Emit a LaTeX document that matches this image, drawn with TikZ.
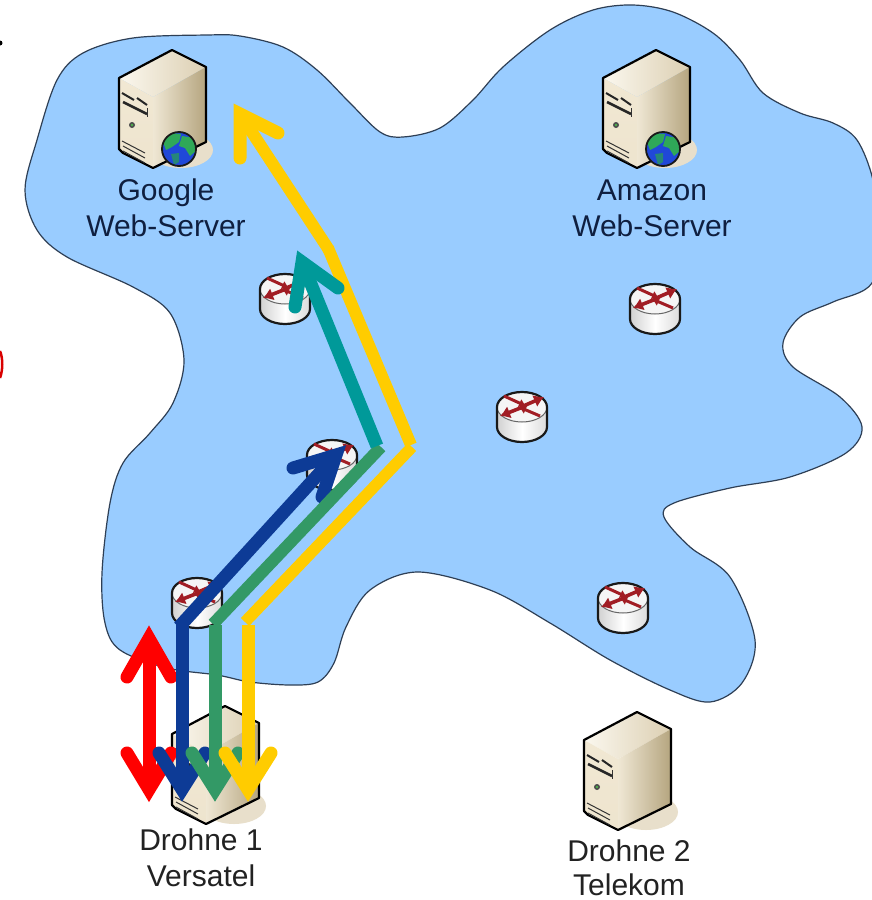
\documentclass[tikz,border=0pt]{standalone}
\usepackage{fontspec}
\setmainfont{Liberation Sans}
\usetikzlibrary{calc,arrows.meta}
\definecolor{cloudblue}{HTML}{99CCFF}
\definecolor{cloudline}{HTML}{2E3F55}
\definecolor{abblue}{HTML}{0D3B96}
\definecolor{abgreen}{HTML}{339966}
\definecolor{abteal}{HTML}{009999}
\definecolor{abyellow}{HTML}{FFCC00}
\definecolor{abred}{HTML}{FF0000}
\definecolor{navytext}{HTML}{0F1F40}
\definecolor{darktext}{HTML}{222222}
\definecolor{routerred}{HTML}{A11D24}
\definecolor{shadowtan}{HTML}{E8DFCB}
\definecolor{topL}{HTML}{FBF8EF}
\definecolor{topR}{HTML}{DCCFB2}
\definecolor{frontface}{HTML}{F1E8D3}
\definecolor{sideL}{HTML}{EFE7D4}
\definecolor{sideR}{HTML}{B5A57F}
\definecolor{globeblue}{HTML}{2048D8}
\definecolor{globegreen}{HTML}{2FA858}
\tikzset{
  shaft/.style={line width=13pt,line cap=butt},
  vhead/.style={line width=13pt,line cap=round,line join=miter,miter limit=10},
  label text/.style={font=\fontsize{30}{36}\selectfont,align=center,inner sep=0pt},
  serverpic/.pic={
    \fill[color=shadowtan] (62,100) ellipse[x radius=32,y radius=18];
    \shade[left color=topL,right color=topR] (53,0)--(87,17)--(34,47)--(0,28)--cycle;
    \shade[top color=frontface,bottom color=frontface!85!topR] (0,28)--(34,47)--(34,118)--(0,100)--cycle;
    \shade[left color=sideL,right color=sideR] (34,47)--(87,17)--(87,92)--(34,118)--cycle;
    \draw[line width=2.2pt,line join=round,black] (53,0)--(87,17)--(87,92)--(34,118)--(4,103)--(0,99)--(0,28)--cycle;
    \draw[line width=2pt,black!85] (3,43)--(15,50) (18,48)--(28,55);
    \draw[line width=2.6pt,black!85] (4,52)--(28,64);
    \draw[line width=1pt,black!80] (28,58)--(28,67);
    \fill[color=black!70] (13,75) circle[radius=3];
    \fill[color=green!40!gray] (13,75) circle[radius=1.3];
    \draw[line width=1pt,black!80] (3,91)--(26,103) (4,96)--(26,108) (4,101)--(26,113);
  },
  globepic/.pic={
    \fill[color=globeblue] (60,99) circle[radius=17];
    \begin{scope}
      \clip (60,99) circle[radius=17];
      \fill[color=globegreen] (44,92) -- (52,83) -- (62,84) -- (60,92) -- (53,97) -- (47,100) -- cycle;
      \fill[color=globegreen] (63,86) -- (76,88) -- (78,100) -- (71,106) -- (66,98) -- (60,96) -- cycle;
      \fill[color=globegreen!80!blue] (52,104) -- (60,103) -- (60,112) -- (55,115) -- cycle;
    \end{scope}
    \draw[line width=1.8pt,black!90] (60,99) circle[radius=17];
  },
  routerpic/.pic={
    \shade[left color=black!18,right color=black!14,middle color=white] (-25,0) -- (-25,20) arc[start angle=180,end angle=0,x radius=25,y radius=15] -- (25,0) -- cycle;
    \fill[color=white!96!black] (0,0) ellipse[x radius=25,y radius=15];
    \draw[line width=1pt,black!60] (0,0) ellipse[x radius=25,y radius=15];
    \draw[line width=2.2pt,black!90] (-25,0) arc[start angle=180,end angle=360,x radius=25,y radius=15] -- (25,20) arc[start angle=0,end angle=180,x radius=25,y radius=15] -- cycle;
    \draw[line width=3pt,routerred,-{Latex[length=7pt,width=9pt]}] (-18,-11)--(4,-1);
    \draw[line width=3pt,routerred,-{Latex[length=7pt,width=9pt]}] (18,9)--(-3,0);
    \draw[line width=3.6pt,routerred,-{Latex[length=10pt,width=13pt]}] (-1,0)--(22,-10);
    \draw[line width=3.6pt,routerred,-{Latex[length=10pt,width=13pt]}] (1,0)--(-22,9);
  }
}
\begin{document}
\begin{tikzpicture}[x=1pt,y=-1pt]
\useasboundingbox (0,0) rectangle (872,900);
\fill[white] (0,0) rectangle (872,900);
\begin{scope}
\clip (0,0) rectangle (872,900);
\draw[line width=1.2pt,draw=cloudline,fill=cloudblue] plot[smooth cycle,tension=0.55] coordinates {
 (207,35) (240,36) (283,47) (317,70) (350,103) (380,132) (403,137) (440,128) (473,100) (503,67) (550,30) (593,10) (633,5) (673,12) (713,33) (740,60) (763,93) (800,113) (833,123) (857,140) (873,180) (878,230) (872,283) (833,302) (800,317) (783,343) (793,367) (840,397) (862,427) (846,453) (790,477) (730,488) (674,503) (664,517) (690,547) (730,577) (755,640) (742,683) (710,702) (670,690) (610,660) (550,623) (490,590) (418,572) (370,590) (346,627) (334,663) (318,682) (290,685) (250,682) (217,675) (167,668) (120,650) (105,623) (102,573) (110,503) (123,463) (150,433) (173,403) (184,360) (170,313) (133,287) (67,257) (37,230) (25,190) (37,140) (57,80) (83,53) (133,38)};
\fill[black] (0,43) circle[radius=2.5];
\draw[line width=2.5pt,red!85!black] (0,351) .. controls (3,358) and (3,370) .. (0,378);
\end{scope}

\pic at (119,50) {serverpic};
\pic at (119,50) {globepic};
\pic at (603,50) {serverpic};
\pic at (603,50) {globepic};
\pic at (172,706) {serverpic};
\pic at (584,712) {serverpic};

\pic at (285,289) {routerpic};
\pic at (655,299) {routerpic};
\pic at (522,407) {routerpic};
\pic at (332,455) {routerpic};
\pic at (197,593) {routerpic};
\pic at (623,598) {routerpic};

\node[label text,text=navytext] (google) at (166,208) {Google\\Web-Server};
\node[label text,text=navytext] (amazon) at (652,208) {Amazon\\Web-Server};
\node[label text,text=darktext] (drohneA) at (201,858) {Drohne 1\\Versatel};
\node[label text,text=darktext] (drohneB) at (629,867.5) {Drohne 2\\[-2pt]Telekom};

% named arrow points
\coordinate (rT) at (149,638.5); \coordinate (rB) at (149,789.5);
\coordinate (rTa) at (127,677); \coordinate (rTb) at (171,677);
\coordinate (rBa) at (127,753); \coordinate (rBb) at (171,753);
\coordinate (bB) at (182,789.5); \coordinate (bBa) at (159,753); \coordinate (bBb) at (205,753);
\coordinate (bK) at (182,624); \coordinate (bKd) at (179,627);
\coordinate (bT) at (336,455); \coordinate (bTa) at (293,468); \coordinate (bTb) at (322,497);
\coordinate (gB) at (215,789.5); \coordinate (gBa) at (192,753); \coordinate (gBb) at (238,753);
\coordinate (gK) at (215,625); \coordinate (gKd) at (213,624); \coordinate (gE) at (381,447);
\coordinate (yB) at (248,789.5); \coordinate (yBa) at (225,753); \coordinate (yBb) at (271,753);
\coordinate (yK) at (248,625); \coordinate (yKd) at (245,622); \coordinate (yE) at (412,447);
\coordinate (yE2) at (411,445); \coordinate (yM) at (328,248); \coordinate (yM2) at (329,250);
\coordinate (yT) at (240,114); \coordinate (yTa) at (240,158); \coordinate (yTb) at (278,133);
\coordinate (tS) at (377,446); \coordinate (tT) at (302,262); \coordinate (tTa) at (295,307); \coordinate (tTb) at (338,288);

% red
\draw[shaft,abred] (rT)--(rB);
\draw[vhead,abred] (rTa)--(rT)--(rTb);
\draw[vhead,abred] (rBa)--(rB)--(rBb);
% blue
\draw[shaft,abblue] (bK)--(bB);
\draw[shaft,abblue] (bKd)--(bT);
\draw[vhead,abblue] (bBa)--(bB)--(bBb);
\draw[vhead,abblue] (bTa)--(bT)--(bTb);
% green
\draw[shaft,abgreen] (gK)--(gB);
\draw[shaft,abgreen,line width=12pt] (gKd)--(gE);
\draw[vhead,abgreen] (gBa)--(gB)--(gBb);
% yellow
\draw[shaft,abyellow] (yK)--(yB);
\draw[shaft,abyellow,line width=11.5pt] (yKd)--(yE);
\draw[shaft,abyellow,line width=12pt] (yE2)--(yM);
\draw[shaft,abyellow,line width=12pt] (yM2)--(yT);
\draw[vhead,abyellow] (yBa)--(yB)--(yBb);
\draw[vhead,abyellow] (yTa)--(yT)--(yTb);
% teal
\draw[shaft,abteal] (tS)--(tT);
\draw[vhead,abteal] (tTa)--(tT)--(tTb);
\end{tikzpicture}
\end{document}
